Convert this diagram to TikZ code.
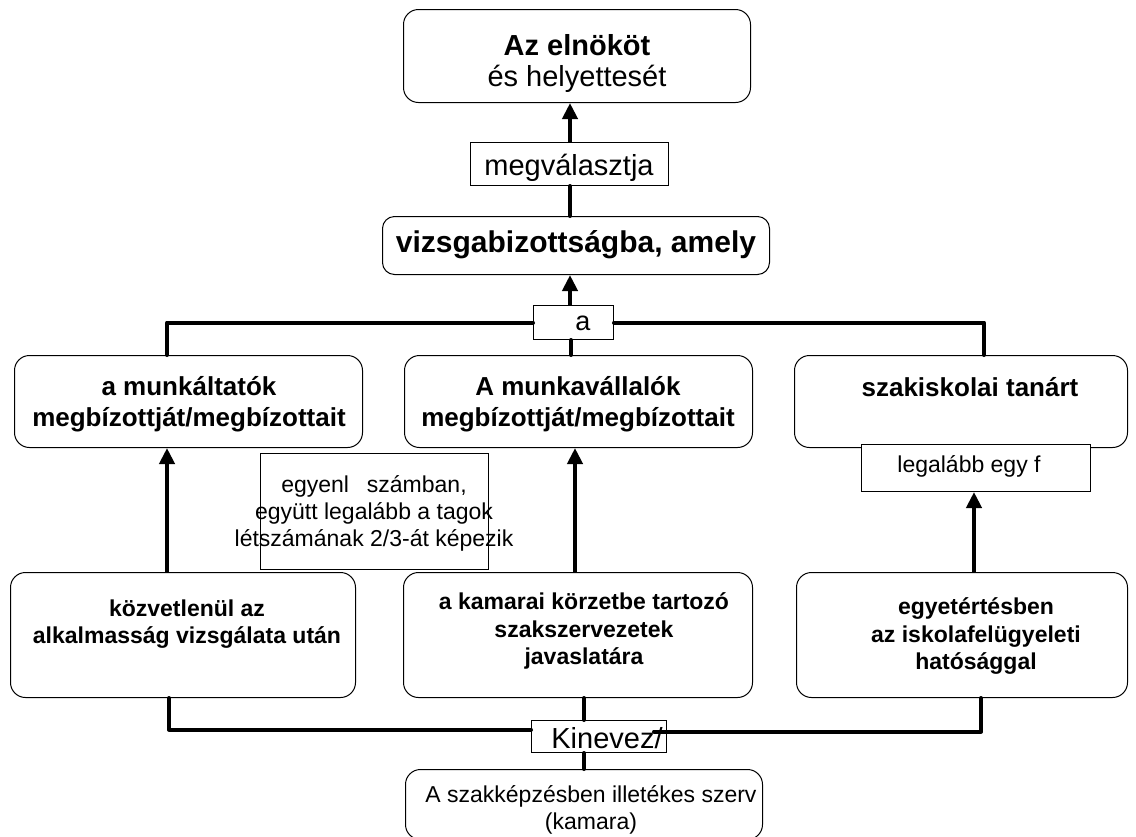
\documentclass[tikz,border=0pt]{standalone}
\usepackage{fontspec}
\setmainfont{Liberation Sans}
\usetikzlibrary{arrows.meta}
\begin{document}
\begin{tikzpicture}[x=1pt,y=-1pt,
  rbox/.style={draw, line width=1pt, rounded corners=15pt, fill=white, inner sep=0pt, anchor=north west},
  sbox/.style={draw, line width=1pt, fill=white, inner sep=0pt, anchor=north west},
  conn/.style={line width=4pt, line cap=round, line join=round},
  arr/.style={line width=4pt, -{Triangle[width=15pt,length=16pt]}},
  bigb/.style={align=center, inner sep=0pt, font=\fontsize{29}{31}\selectfont},
  midb/.style={align=center, inner sep=0pt, font=\fontsize{26}{31}\selectfont\bfseries},
  smlb/.style={align=center, inner sep=0pt, font=\fontsize{23}{27.5}\selectfont\bfseries},
  notet/.style={align=center, inner sep=0pt, font=\fontsize{23}{27}\selectfont},
]
\useasboundingbox[fill=white] (0,0) rectangle (1136,836);

% column coordinates
\coordinate (xa) at (570,0);
\coordinate (xm2) at (571,0);
\coordinate (xl) at (167,0);
\coordinate (xm) at (575,0);
\coordinate (xr) at (974,0);
\coordinate (xrt) at (984,0);
\coordinate (xl2) at (169,0);
\coordinate (xr2) at (981,0);
\coordinate (xk) at (584,0);

% boxes
\node[rbox, minimum width=347pt, minimum height=93pt] (top) at (403,9) {};
\node[sbox, minimum width=198pt, minimum height=43pt] (mv) at (470,142) {};
\node[rbox, minimum width=387pt, minimum height=58pt, rounded corners=12pt] (vb) at (382,216) {};
\node[sbox, minimum width=80pt, minimum height=34pt] (abox) at (533,305) {};
\node[rbox, minimum width=348pt, minimum height=92pt] (tl) at (14,355) {};
\node[rbox, minimum width=348pt, minimum height=92pt] (tm) at (404,355) {};
\node[rbox, minimum width=333pt, minimum height=92pt] (tr) at (794,355) {};
\node[sbox, minimum width=228pt, minimum height=116pt] (nb) at (260,453) {};
\node[sbox, minimum width=229pt, minimum height=47pt] (lg) at (861,444) {};
\node[rbox, minimum width=345pt, minimum height=125pt] (bl) at (10,572) {};
\node[rbox, minimum width=349pt, minimum height=125pt] (bm) at (403,572) {};
\node[rbox, minimum width=331pt, minimum height=125pt] (br) at (796,572) {};
\node[sbox, minimum width=135pt, minimum height=32pt] (kin) at (531,720) {};
\node[rbox, minimum width=357pt, minimum height=70pt] (bot) at (405,769) {};

% texts
\node[bigb] (ttop) at (577,63) {\textbf{Az elnököt}\\és helyettesét};
\node[bigb] (tmv) at (569,168) {megválasztja};
\node[bigb, font=\fontsize{30}{32}\selectfont\bfseries] (tvb) at (576,245) {vizsgabizottságba, amely};
\node[bigb, font=\fontsize{27}{30}\selectfont] (ta) at (583,323) {a};
\node[midb] (ttl) at (189,404) {a munkáltatók\\megbízottját/megbízottait};
\node[midb] (ttm) at (578,404) {A munkavállalók\\megbízottját/megbízottait};
\node[midb] (ttr) at (970,387) {szakiskolai tanárt};
\node[notet] (tnb) at (374,513) {egyenl\hspace{0.5em} számban,\\együtt legalább a tagok\\létszámának 2/3-át képezik};
\node[notet] (tlg) at (969,466) {legalább egy f};
\node[smlb] (tbl) at (187,624) {közvetlenül az\\alkalmasság vizsgálata után};
\node[smlb] (tbm) at (584,631) {a kamarai körzetbe tartozó\\szakszervezetek\\javaslatára};
\node[smlb] (tbr) at (976,636) {egyetértésben\\az iskolafelügyeleti\\hatósággal};
\node[bigb] (tkin) at (607,738) {Kinevez/};
\node[notet] (tbot) at (591,810) {A szakképzésben illetékes szerv\\(kamara)};

% connectors
\draw[arr] (xa |- mv.north) -- (xa |- top.south);
\draw[conn] (xa |- vb.north) -- (xa |- mv.south);
\draw[arr] (xa |- abox.north) -- (xa |- vb.south);
\draw[conn] (xm2 |- abox.south) -- (xm2 |- tm.north);
\draw[conn] (abox.west) -| (xl |- tl.north);
\draw[conn] (abox.east) -| (xrt |- tr.north);
\draw[arr] (xl |- bl.north) -- (xl |- tl.south);
\draw[arr] (xm |- bm.north) -- (xm |- tm.south);
\draw[arr] (xr |- br.north) -- (xr |- lg.south);
\draw[conn] (xl2 |- bl.south) |- ([yshift=7pt]kin.west);
\draw[conn] (xr2 |- br.south) |- ([xshift=-13pt,yshift=5pt]kin.east);
\draw[conn] (xk |- bm.south) -- (xk |- kin.north);
\draw[conn] (xk |- kin.south) -- (xk |- bot.north);
\end{tikzpicture}
\end{document}
